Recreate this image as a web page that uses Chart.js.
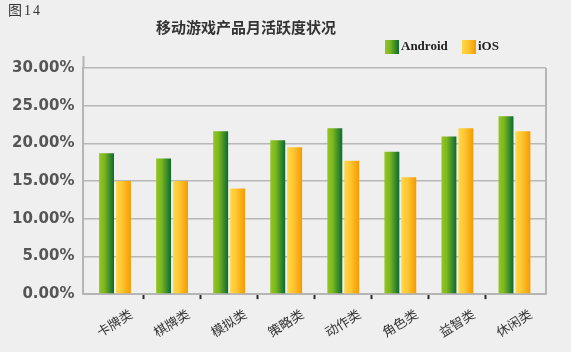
<!DOCTYPE html>
<html>
<head>
<meta charset="utf-8">
<script src="https://cdn.jsdelivr.net/npm/chart.js@4.4.0/dist/chart.umd.min.js"></script>
<style>
  html, body { margin: 0; padding: 0; background: #efefef; }
  #wrap { width: 571px; height: 352px; }
</style>
</head>
<body>
<div id="wrap"><canvas id="c" width="571" height="352"></canvas></div>
<script>
var categories = ['卡牌类', '棋牌类', '模拟类', '策略类', '动作类', '角色类', '益智类', '休闲类'];
var android = [18.7, 18.0, 21.6, 20.4, 22.0, 18.9, 20.9, 23.6];
var ios = [15.0, 15.0, 14.0, 19.5, 17.7, 15.5, 22.0, 21.6];
var yTicks = [0, 5, 10, 15, 20, 25, 30];

var CP = 0.593, BP = 0.88;
var X_INSET = 3;

function barGradient(stops, side) {
  return function (ctx) {
    var chart = ctx.chart;
    var xs = chart.scales.x;
    if (!xs || ctx.type !== 'data') return stops[0][1];
    var cw = xs.getPixelForValue(1) - xs.getPixelForValue(0);
    var slot = cw * CP / 2;
    var bw = slot * BP;
    var cx = xs.getPixelForValue(ctx.dataIndex) + side * slot / 2;
    if (!isFinite(cx) || !isFinite(bw) || bw <= 0) return stops[0][1];
    var g = chart.ctx.createLinearGradient(cx - bw / 2, 0, cx + bw / 2, 0);
    stops.forEach(function (s) { g.addColorStop(s[0], s[1]); });
    return g;
  };
}

var greenStops = [[0, '#93c51f'], [0.35, '#7cb81f'], [1, '#0b6a30']];
var orangeStops = [[0, '#ffd843'], [0.4, '#fdc733'], [1, '#f59a00']];

function legendGrad(c, x, stops) {
  var g = c.createLinearGradient(x, 0, x + 14, 0);
  stops.forEach(function (s) { g.addColorStop(s[0], s[1]); });
  return g;
}

// category axis sits a few px inside the plot frame
var insetX = {
  id: 'insetX',
  afterLayout: function (chart) {
    var xs = chart.scales.x;
    xs._startPixel += X_INSET;
    xs._endPixel -= X_INSET;
    xs._length -= 2 * X_INSET;
  }
};

var decor = {
  id: 'decor',
  beforeDraw: function (chart) {
    var c = chart.ctx;
    c.save();
    c.fillStyle = '#efefef';
    c.fillRect(0, 0, chart.width, chart.height);
    c.restore();
  },
  afterDraw: function (chart) {
    var c = chart.ctx;
    var a = chart.chartArea;
    c.save();
    // right border + y axis extension
    c.strokeStyle = '#b5b5b5';
    c.lineWidth = 2;
    c.beginPath();
    c.moveTo(a.right, a.top);
    c.lineTo(a.right, a.bottom);
    c.moveTo(a.left, a.top - 12);
    c.lineTo(a.left, a.top);
    c.stroke();

    c.fillStyle = '#333';
    c.textBaseline = 'middle';
    c.font = '14px "Liberation Serif", "Noto Sans CJK SC", serif';
    c.textAlign = 'left';
    c.letterSpacing = '2px';
    c.fillText('图14', 8, 11);
    c.letterSpacing = '0px';

    c.font = 'bold 15px "Noto Sans CJK SC", sans-serif';
    c.textAlign = 'center';
    c.fillText('移动游戏产品月活跃度状况', 246, 27);

    // legend
    c.fillStyle = legendGrad(c, 385, greenStops);
    c.fillRect(385, 40, 14, 14);
    c.fillStyle = legendGrad(c, 462, orangeStops);
    c.fillRect(462, 40, 14, 14);
    c.fillStyle = '#222';
    c.textAlign = 'left';
    c.font = 'bold 13px "Liberation Serif", serif';
    c.fillText('Android', 401, 47);
    c.fillText('iOS', 478, 47);
    c.restore();
  }
};

new Chart(document.getElementById('c'), {
  type: 'bar',
  data: {
    labels: categories,
    datasets: [
      { label: 'Android', data: android, backgroundColor: barGradient(greenStops, -1),
        categoryPercentage: CP, barPercentage: BP },
      { label: 'iOS', data: ios, backgroundColor: barGradient(orangeStops, 1),
        categoryPercentage: CP, barPercentage: BP }
    ]
  },
  options: {
    responsive: false,
    animation: false,
    layout: { padding: { top: 68, right: 25, left: 3, bottom: 5 } },
    plugins: {
      legend: { display: false },
      title: { display: false },
      tooltip: { enabled: false }
    },
    scales: {
      x: {
        grid: {
          offset: true,
          drawOnChartArea: false,
          drawTicks: true,
          tickLength: 5,
          tickWidth: 2,
          tickColor: function (ctx) {
            return (ctx.type !== 'tick' || ctx.index === 0) ? 'rgba(0,0,0,0)' : '#2a2a2a';
          }
        },
        border: { color: '#b5b5b5', width: 2 },
        ticks: {
          minRotation: 32,
          maxRotation: 32,
          labelOffset: 16,
          padding: 7,
          color: '#333',
          font: { family: '"Noto Sans CJK SC", sans-serif', size: 13 }
        }
      },
      y: {
        min: 0,
        max: 30,
        afterBuildTicks: function (axis) {
          axis.ticks = yTicks.map(function (v) { return { value: v }; });
        },
        grid: { color: '#b8b8b8', lineWidth: 1.5, drawTicks: false },
        border: { color: '#b5b5b5', width: 2 },
        ticks: {
          padding: 9,
          color: '#555',
          font: { family: '"DejaVu Sans", sans-serif', size: 15, weight: 'bold' },
          callback: function (v) { return v.toFixed(2) + '%'; }
        }
      }
    }
  },
  plugins: [insetX, decor]
});
</script>
</body>
</html>
